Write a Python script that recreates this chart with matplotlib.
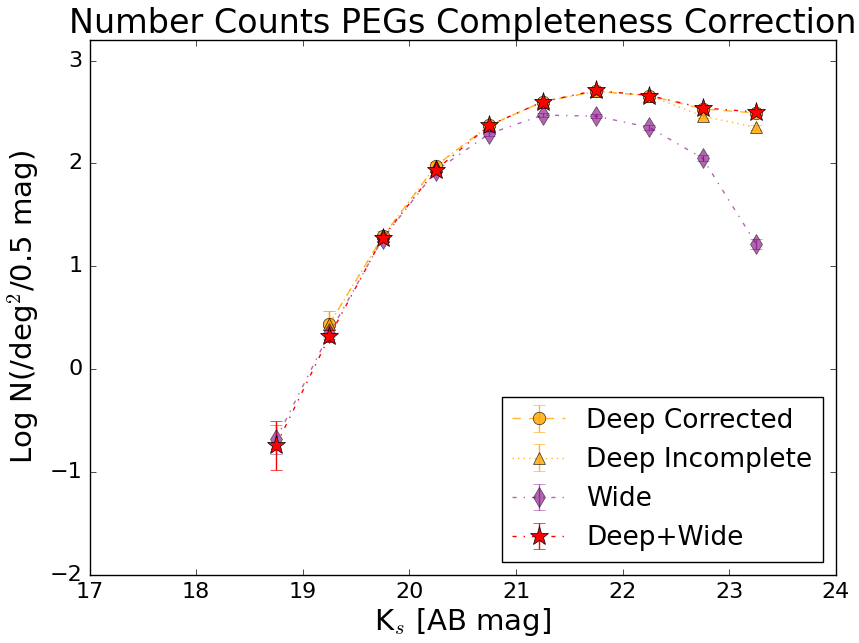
import matplotlib
matplotlib.use("Agg")
import matplotlib.pyplot as plt
import numpy as np

plt.style.use('classic')
plt.rcParams['font.family'] = ['DejaVu Sans']

mag_dc = [19.25, 19.75, 20.25, 20.75, 21.25, 21.75, 22.25, 22.75, 23.25]
dc = [0.44, 1.29, 1.98, 2.37, 2.60, 2.70, 2.66, 2.53, 2.49]
dc_err = [0.13, 0.05, 0.03, 0.02, 0.02, 0.02, 0.02, 0.02, 0.02]

mag_di = [19.25, 19.75, 20.25, 20.75, 21.25, 21.75, 22.25, 22.75, 23.25]
di = [0.44, 1.29, 1.98, 2.37, 2.60, 2.70, 2.66, 2.46, 2.35]
di_err = [0.13, 0.05, 0.03, 0.02, 0.02, 0.02, 0.02, 0.02, 0.02]

mag_w = [18.75, 19.25, 19.75, 20.25, 20.75, 21.25, 21.75, 22.25, 22.75, 23.25]
wide = [-0.68, 0.35, 1.27, 1.93, 2.29, 2.47, 2.46, 2.35, 2.05, 1.22]
wide_err = [0.14, 0.06, 0.03, 0.02, 0.02, 0.02, 0.02, 0.02, 0.03, 0.05]

mag_dw = [18.75, 19.25, 19.75, 20.25, 20.75, 21.25, 21.75, 22.25, 22.75, 23.25]
dw = [-0.74, 0.32, 1.28, 1.94, 2.37, 2.60, 2.71, 2.66, 2.54, 2.50]
dw_err = [0.24, 0.06, 0.03, 0.02, 0.02, 0.02, 0.02, 0.02, 0.02, 0.02]

fig = plt.figure(figsize=(8.59, 6.43), dpi=100, facecolor='white')
ax = fig.add_axes([0.1042, 0.1058, 0.869, 0.832])

ax.errorbar(mag_dc, dc, yerr=dc_err, fmt='o', ls='--', color='orange', mec='k',
            mfc='orange', ms=9, alpha=0.8, capsize=4, label='Deep Corrected')
ax.errorbar(mag_di, di, yerr=di_err, fmt='^', ls=':', color='orange', mec='k',
            mfc='orange', ms=9, alpha=0.8, capsize=4, label='Deep Incomplete')
ax.errorbar(mag_w, wide, yerr=wide_err, fmt='d', ls='-.', color='purple', mec='k',
            mfc='purple', ms=10, alpha=0.6, capsize=4, label='Wide')
ax.errorbar(mag_dw, dw, yerr=dw_err, fmt='*', ls='-.', color='red', mec='k',
            mfc='red', ms=14, alpha=1.0, capsize=4, label='Deep+Wide')

ax.set_xlim(17, 24)
ax.set_ylim(-2, 3.2)
ax.set_xticks([17, 18, 19, 20, 21, 22, 23, 24])
ax.set_yticks([-2, -1, 0, 1, 2, 3])
ax.tick_params(labelsize=16, pad=5)
ax.set_xlabel(r'K$_s$ [AB mag]', fontsize=21, labelpad=3)
ax.set_ylabel(r'Log N(/deg$^2$/0.5 mag)', fontsize=21)
ax.yaxis.set_label_coords(-0.065, 0.5)
ax.set_title('Number Counts PEGs Completeness Correction', fontsize=24, pad=5)
leg = ax.legend(loc='lower right', fontsize=19, numpoints=1)

fig.savefig('out.png', dpi=100, facecolor='white')
